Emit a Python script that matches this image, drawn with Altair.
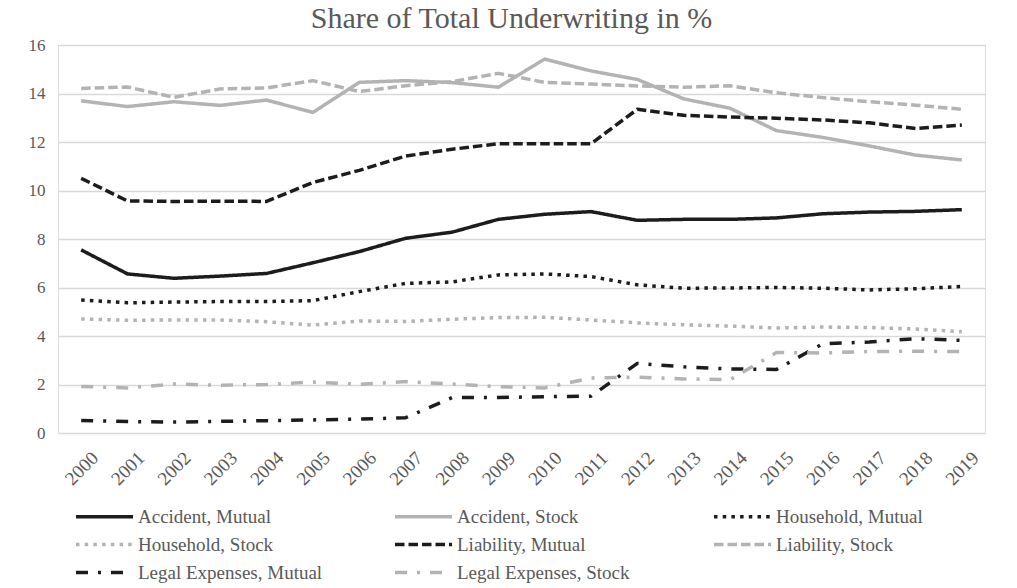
import altair as alt
import pandas as pd

# Reporting years (x categories)
years = ["2000", "2001", "2002", "2003", "2004", "2005", "2006", "2007", "2008", "2009",
         "2010", "2011", "2012", "2013", "2014", "2015", "2016", "2017", "2018", "2019"]

# Share of total underwriting per line of business and legal form, in %
accident_mutual = [7.55, 6.56, 6.38, 6.47, 6.58, 7.02, 7.48, 8.03, 8.28, 8.81,
                   9.02, 9.13, 8.77, 8.81, 8.81, 8.87, 9.04, 9.11, 9.14, 9.21]
accident_stock = [13.7, 13.46, 13.66, 13.51, 13.73, 13.22, 14.46, 14.53, 14.45, 14.26,
                  15.42, 14.93, 14.58, 13.78, 13.39, 12.47, 12.19, 11.84, 11.46, 11.26]
household_mutual = [5.48, 5.37, 5.4, 5.42, 5.42, 5.46, 5.83, 6.17, 6.23, 6.52,
                    6.56, 6.45, 6.11, 5.97, 5.98, 6.0, 5.97, 5.9, 5.95, 6.04]
household_stock = [4.7, 4.65, 4.66, 4.66, 4.59, 4.45, 4.62, 4.6, 4.69, 4.76,
                   4.77, 4.66, 4.54, 4.46, 4.41, 4.33, 4.37, 4.35, 4.29, 4.18]
liability_mutual = [10.5, 9.57, 9.55, 9.56, 9.55, 10.33, 10.83, 11.42, 11.7, 11.93,
                    11.93, 11.93, 13.35, 13.1, 13.03, 12.98, 12.91, 12.79, 12.56, 12.7]
liability_stock = [14.21, 14.27, 13.84, 14.19, 14.23, 14.53, 14.08, 14.32, 14.49, 14.83,
                   14.46, 14.39, 14.31, 14.26, 14.32, 14.03, 13.83, 13.66, 13.52, 13.35]
legal_mutual = [0.52, 0.47, 0.45, 0.48, 0.51, 0.54, 0.57, 0.63, 1.46, 1.46,
                1.5, 1.52, 2.87, 2.73, 2.64, 2.62, 3.68, 3.75, 3.89, 3.82]
legal_stock = [1.92, 1.86, 2.02, 1.97, 2.0, 2.1, 2.01, 2.12, 2.02, 1.91,
               1.86, 2.27, 2.3, 2.23, 2.2, 3.32, 3.3, 3.36, 3.37, 3.36]

series_names = ["Accident, Mutual", "Accident, Stock", "Household, Mutual",
                "Household, Stock", "Liability, Mutual", "Liability, Stock",
                "Legal Expenses, Mutual", "Legal Expenses, Stock"]
series_values = [accident_mutual, accident_stock, household_mutual, household_stock,
                 liability_mutual, liability_stock, legal_mutual, legal_stock]

BLACK = "#1c1c1c"
GREY = "#b3b3b3"
series_colors = [BLACK, GREY, BLACK, GREY, BLACK, GREY, BLACK, GREY]
solid = [1, 0]
dotted = [3.5, 5.2]
dashed = [9.5, 4]
dash_dot = [12, 10, 3, 10]
series_dashes = [solid, solid, dotted, dotted, dashed, dashed, dash_dot, dash_dot]

rows = []
for name, values in zip(series_names, series_values):
    for year, v in zip(years, values):
        rows.append({"Year": year, "Series": name, "Share": v})
df = pd.DataFrame(rows)

TEXT = "#595959"
FONT = "Liberation Serif"

# Long horizontal swatch: a path three times wider than the nominal symbol size,
# so the legend rows stay compact while the swatch is long.
legend_kwargs = dict(
    title=None,
    orient="none",
    direction="horizontal",
    legendX=16,
    legendY=460,
    columns=3,
    gridAlign="all",
    symbolType="M-3,0H3",
    symbolSize=361,
    symbolOffset=19,
    symbolStrokeWidth=3.5,
    labelFont=FONT,
    labelFontSize=19,
    labelColor=TEXT,
    labelOffset=22,
    columnPadding=65,
    rowPadding=6,
    padding=0,
    labelLimit=400,
)

chart = (
    alt.Chart(df)
    .mark_line(strokeWidth=3.5, strokeCap="butt", strokeJoin="round")
    .encode(
        x=alt.X(
            "Year:O",
            sort=years,
            axis=alt.Axis(
                title=None,
                labelAngle=-45,
                labelAlign="center",
                labelBaseline="middle",
                labelPadding=35,
                ticks=False,
                tickSize=0,
                domain=False,
                grid=False,
                labelFont=FONT,
                labelFontSize=19,
                labelColor=TEXT,
            ),
        ),
        y=alt.Y(
            "Share:Q",
            scale=alt.Scale(domain=[0, 16], nice=False),
            axis=alt.Axis(
                title=None,
                values=[0, 2, 4, 6, 8, 10, 12, 14, 16],
                ticks=False,
                tickSize=0,
                domain=False,
                grid=True,
                gridColor="#d9d9d9",
                gridWidth=1.5,
                labelPadding=13,
                labelFont=FONT,
                labelFontSize=17,
                labelColor=TEXT,
            ),
        ),
        color=alt.Color(
            "Series:N",
            sort=series_names,
            scale=alt.Scale(domain=series_names, range=series_colors),
            legend=alt.Legend(**legend_kwargs),
        ),
        strokeDash=alt.StrokeDash(
            "Series:N",
            sort=series_names,
            scale=alt.Scale(domain=series_names, range=series_dashes),
            legend=alt.Legend(**legend_kwargs),
        ),
    )
    .properties(
        width=927,
        height=388,
        title=alt.TitleParams(
            "Share of Total Underwriting in %",
            font=FONT,
            fontSize=30,
            fontWeight="normal",
            color=TEXT,
            anchor="middle",
            offset=2,
            dx=-10,
        ),
        autosize=alt.AutoSizeParams(type="none"),
        padding={"left": 58, "top": 45, "right": 32, "bottom": 155},
    )
    .configure_view(strokeWidth=0)
    .configure(background="white")
)

chart.save("out.html", embed_options={"renderer": "svg", "actions": False})
